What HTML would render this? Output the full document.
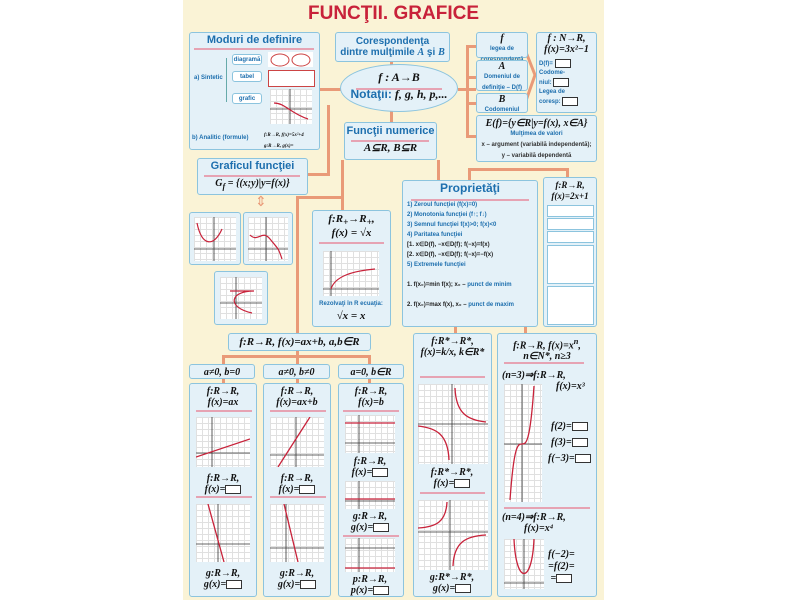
<!DOCTYPE html>
<html><head><meta charset="utf-8"><style>
body{margin:0;width:800px;height:600px;background:#fff;position:relative;overflow:hidden;font-family:"Liberation Serif",serif}
#p{position:absolute;left:183px;top:0;width:421px;height:600px;background:#faf3d6}
.a{position:absolute}
.b{position:absolute;background:#e4f1f8;border:1.5px solid #8cc4de;border-radius:3px;box-sizing:border-box;text-align:center;color:#111;font-weight:bold;font-style:italic;font-size:10px;line-height:11px}
.h{font-family:"Liberation Sans",sans-serif;font-style:normal;color:#1d6fae;font-weight:bold}
.l{position:absolute;background:#e99a78}
.g{position:absolute;background:#fff;background-image:linear-gradient(#e0e0e0 1px,transparent 1px),linear-gradient(90deg,#e0e0e0 1px,transparent 1px);background-size:6px 6px;overflow:hidden}
.g svg{position:absolute;left:0;top:0;width:100%;height:100%}
.pk{position:absolute;height:2px;background:#e6a3b3}
.s{font-family:"Liberation Sans",sans-serif;font-style:normal;color:#1d6fae;font-size:6px;font-weight:bold}
.bx{display:inline-block;width:14px;height:7px;border:1px solid #333;background:#fff;vertical-align:middle}
</style></head><body><div id="p"></div>
<div class="l" style="left:319px;top:88px;width:22px;height:3px"></div>
<div class="l" style="left:390px;top:60px;width:3px;height:62px"></div>
<div class="l" style="left:458px;top:88px;width:18px;height:3px"></div>
<div class="l" style="left:466px;top:45px;width:3px;height:92px"></div>
<div class="l" style="left:466px;top:45px;width:10px;height:3px"></div>
<div class="l" style="left:466px;top:76px;width:10px;height:3px"></div>
<div class="l" style="left:466px;top:102px;width:10px;height:3px"></div>
<div class="l" style="left:466px;top:135px;width:10px;height:3px"></div>
<div class="l" style="left:327px;top:105px;width:3px;height:70px"></div>
<div class="l" style="left:308px;top:173px;width:22px;height:3px"></div>
<div class="l" style="left:296px;top:196px;width:48px;height:3px"></div>
<div class="l" style="left:341px;top:160px;width:3px;height:50px"></div>
<div class="l" style="left:296px;top:196px;width:3px;height:137px"></div>
<div class="l" style="left:437px;top:160px;width:3px;height:22px"></div>
<div class="l" style="left:468px;top:168px;width:3px;height:14px"></div>
<div class="l" style="left:468px;top:168px;width:100px;height:3px"></div>
<div class="l" style="left:566px;top:168px;width:3px;height:10px"></div>
<div class="l" style="left:454px;top:327px;width:3px;height:8px"></div>
<div class="l" style="left:524px;top:327px;width:3px;height:8px"></div>
<div class="l" style="left:222px;top:355px;width:148px;height:3px"></div>
<div class="l" style="left:222px;top:355px;width:3px;height:10px"></div>
<div class="l" style="left:296px;top:350px;width:3px;height:15px"></div>
<div class="l" style="left:368px;top:355px;width:3px;height:10px"></div>
<div class="l" style="left:222px;top:378px;width:3px;height:6px"></div>
<div class="l" style="left:296px;top:378px;width:3px;height:6px"></div>
<div class="l" style="left:368px;top:378px;width:3px;height:6px"></div>
<svg class="a" style="left:520px;top:40px" width="20" height="75"><path d="M2 2 L15 35 L2 72" stroke="#e99a78" stroke-width="3" fill="none"/></svg>

<div class="a" style="left:183px;top:3px;width:421px;text-align:center;font:bold 19px 'Liberation Sans',sans-serif;color:#c8223a">FUNCŢII. GRAFICE</div>

<div class="b" style="left:189px;top:32px;width:131px;height:118px;text-align:left">
<div class="h" style="text-align:center;font-size:11px;margin-top:2px">Moduri de definire</div>
<div class="pk" style="left:4px;top:15px;width:120px"></div>
<div class="s a" style="left:4px;top:40px">a) Sintetic</div>
<div class="a" style="left:36px;top:25px;width:1px;height:44px;background:#6aa"></div>
<div class="b s" style="left:42px;top:21px;width:30px;height:11px;background:#fff">diagramă</div>
<div class="b s" style="left:42px;top:38px;width:30px;height:11px;background:#fff">tabel</div>
<div class="b s" style="left:42px;top:60px;width:30px;height:11px;background:#fff">grafic</div>
<div class="a" style="left:78px;top:19px;width:45px;height:15px;background:#fff"><svg width="45" height="15"><ellipse cx="12" cy="8" rx="9" ry="6" fill="none" stroke="#c44"/><ellipse cx="33" cy="8" rx="9" ry="6" fill="none" stroke="#c44"/></svg></div>
<div class="a" style="left:78px;top:37px;width:45px;height:15px;background:#fff;border:1px solid #c44"></div>
<div class="g" style="left:80px;top:56px;width:42px;height:35px"><svg viewBox="0 0 42 35"><path d="M0 20H42M20 0V35" stroke="#333" stroke-width=".8"/><path d="M4 14C15 14 20 24 38 30" stroke="#c8223a" fill="none" stroke-width="1.2"/></svg></div>
<div class="s a" style="left:2px;top:100px">b) Analitic (formule)</div>
<div class="a" style="left:74px;top:97px;font-size:5px">f:R→R, f(x)=5x²+4<br>g:R→R, g(x)=</div>
</div>

<div class="b h" style="left:335px;top:32px;width:115px;height:30px;font-size:10px;padding-top:3px">Corespondenţa<br>dintre mulţimile <i style="font-family:'Liberation Serif'">A</i> şi <i style="font-family:'Liberation Serif'">B</i></div>
<div class="b" style="left:340px;top:64px;width:118px;height:48px;border-radius:50%;font-size:12px;padding-top:7px">f : A→B<div class="pk" style="left:15px;top:23px;width:86px"></div><div style="margin-top:6px"><span class="h">Notaţii:</span> f, g, h, p,...</div></div>

<div class="b" style="left:476px;top:32px;width:52px;height:26px">f<div class="s">legea de corespondenţă</div></div>
<div class="b" style="left:476px;top:60px;width:52px;height:31px">A<div class="s">Domeniul de definiţie – D(f)</div></div>
<div class="b" style="left:476px;top:93px;width:52px;height:20px">B<div class="s">Codomeniul</div></div>
<div class="b" style="left:536px;top:32px;width:61px;height:81px">f : N→R,<br>f(x)=3x²−1<div class="s" style="text-align:left;padding:4px 2px;line-height:9px">D(f)= <span class="bx"></span><br>Codome-<br>niul: <span class="bx"></span><br>Legea de<br>coresp: <span class="bx"></span></div></div>
<div class="b" style="left:476px;top:115px;width:121px;height:47px;padding-top:2px">E(f)={y∈R|y=f(x), x∈A}<div class="s">Mulţimea de valori</div><div class="s" style="color:#333">x – argument (variabilă independentă);<br>y – variabilă dependentă</div></div>

<div class="b" style="left:344px;top:122px;width:93px;height:38px"><div class="h" style="font-size:11px;margin-top:3px">Funcţii numerice</div><div class="pk" style="left:6px;top:17px;width:78px"></div><div style="margin-top:6px;font-size:11px">A⊆R, B⊆R</div></div>

<div class="b" style="left:197px;top:158px;width:111px;height:37px"><div class="h" style="font-size:11px;margin-top:2px">Graficul funcţiei</div><div class="pk" style="left:6px;top:16px;width:96px"></div><div style="margin-top:6px">G<sub>f</sub> = {(x;y)|y=f(x)}</div></div>
<div class="a" style="left:255px;top:194px;color:#e99a78;font-size:14px">⇕</div>
<div class="b" style="left:189px;top:212px;width:52px;height:53px"><div class="g" style="left:4px;top:4px;width:42px;height:44px"><svg viewBox="0 0 42 44"><path d="M0 32H42M20 0V44" stroke="#333" stroke-width=".8"/><path d="M3 6C8 30 20 30 28 12" stroke="#c8223a" fill="none" stroke-width="1.2"/></svg></div></div>
<div class="b" style="left:243px;top:212px;width:50px;height:53px"><div class="g" style="left:4px;top:4px;width:40px;height:44px"><svg viewBox="0 0 40 44"><path d="M0 32H40M18 0V44" stroke="#333" stroke-width=".8"/><path d="M2 18C10 26 14 12 22 22S30 30 34 42" stroke="#c8223a" fill="none" stroke-width="1.2"/></svg></div></div>
<div class="b" style="left:214px;top:271px;width:54px;height:54px"><div class="g" style="left:5px;top:5px;width:42px;height:42px"><svg viewBox="0 0 42 42"><path d="M0 26H42M16 0V42" stroke="#333" stroke-width=".8"/><path d="M10 14H34M34 14C10 14 6 30 32 36" stroke="#c8223a" fill="none" stroke-width="1.2"/></svg></div></div>

<div class="b" style="left:312px;top:210px;width:79px;height:117px;font-size:11px;padding-top:3px">f:R<sub>+</sub>→R<sub>+</sub>,<br>f(x) = √x<div class="pk" style="left:6px;top:31px;width:65px"></div><div class="g" style="left:10px;top:40px;width:56px;height:45px"><svg viewBox="0 0 56 45"><path d="M0 38H56M8 0V45" stroke="#333" stroke-width=".8"/><path d="M8 38C12 25 30 20 52 18" stroke="#c8223a" fill="none" stroke-width="1.2"/></svg></div><div class="s a" style="left:2px;top:88px;width:72px">Rezolvaţi în R ecuaţia:</div><div class="a" style="left:0;top:100px;width:76px">√x = x</div></div>

<div class="b" style="left:402px;top:180px;width:136px;height:147px;text-align:left"><div class="h" style="text-align:center;font-size:12px;margin-top:2px">Proprietăţi</div><div class="pk" style="left:8px;top:18px;width:118px"></div>
<div class="s" style="font-size:6px;line-height:10px;padding:6px 4px">1) Zeroul funcţiei (f(x)=0)<br>2) Monotonia funcţiei (f↑; f↓)<br>3) Semnul funcţiei f(x)&gt;0; f(x)&lt;0<br>4) Paritatea funcţiei<br><span style="color:#222">[1. x∈D(f), −x∈D(f); f(−x)=f(x)<br>[2. x∈D(f), −x∈D(f); f(−x)=−f(x)</span><br>5) Extremele funcţiei<br><span style="color:#222"><br>1. f(x₀)=min f(x); x₀ – </span>punct de minim<br><br><span style="color:#222">2. f(x₀)=max f(x), x₀ – </span>punct de maxim</div></div>

<div class="b" style="left:543px;top:177px;width:54px;height:150px;font-size:9px;padding-top:2px">f:R→R,<br>f(x)=2x+1
<div class="a" style="left:3px;top:27px;width:45px;height:10px;background:#fff;border:1px solid #8cc4de"></div>
<div class="a" style="left:3px;top:40px;width:45px;height:10px;background:#fff;border:1px solid #8cc4de"></div>
<div class="a" style="left:3px;top:53px;width:45px;height:10px;background:#fff;border:1px solid #8cc4de"></div>
<div class="a" style="left:3px;top:67px;width:45px;height:37px;background:#fff;border:1px solid #8cc4de"></div>
<div class="a" style="left:3px;top:108px;width:45px;height:37px;background:#fff;border:1px solid #8cc4de"></div></div>

<div class="b" style="left:228px;top:333px;width:143px;height:18px;font-size:11px;padding-top:3px">f:R→R, f(x)=ax+b, a,b∈R</div>
<div class="b" style="left:189px;top:364px;width:66px;height:15px;padding-top:2px">a≠0, b=0</div>
<div class="b" style="left:263px;top:364px;width:67px;height:15px;padding-top:2px">a≠0, b≠0</div>
<div class="b" style="left:338px;top:364px;width:66px;height:15px;padding-top:2px">a=0, b∈R</div>

<div class="b" style="left:189px;top:383px;width:68px;height:214px;font-size:10px;padding-top:2px">f:R→R,<br>f(x)=ax<div class="pk" style="left:6px;top:26px;width:56px"></div><div class="g" style="left:6px;top:33px;width:54px;height:50px"><svg viewBox="0 0 54 50"><path d="M0 36H54M16 0V50" stroke="#333" stroke-width=".8"/><path d="M0 40L54 22" stroke="#c8223a" stroke-width="1.3"/></svg></div><div class="a" style="left:0;top:89px;width:66px">f:R→R,<br>f(x)=<span class="bx"></span></div><div class="pk" style="left:6px;top:112px;width:56px"></div><div class="g" style="left:6px;top:120px;width:54px;height:58px"><svg viewBox="0 0 54 58"><path d="M0 40H54M22 0V58" stroke="#333" stroke-width=".8"/><path d="M12 0L28 58" stroke="#c8223a" stroke-width="1.3"/></svg></div><div class="a" style="left:0;top:184px;width:66px">g:R→R,<br>g(x)=<span class="bx"></span></div></div>
<div class="b" style="left:263px;top:383px;width:68px;height:214px;font-size:10px;padding-top:2px">f:R→R,<br>f(x)=ax+b<div class="pk" style="left:6px;top:26px;width:56px"></div><div class="g" style="left:6px;top:33px;width:54px;height:50px"><svg viewBox="0 0 54 50"><path d="M0 38H54M26 0V50" stroke="#333" stroke-width=".8"/><path d="M8 50L40 0" stroke="#c8223a" stroke-width="1.3"/></svg></div><div class="a" style="left:0;top:89px;width:66px">f:R→R,<br>f(x)=<span class="bx"></span></div><div class="pk" style="left:6px;top:112px;width:56px"></div><div class="g" style="left:6px;top:120px;width:54px;height:58px"><svg viewBox="0 0 54 58"><path d="M0 44H54M16 0V58" stroke="#333" stroke-width=".8"/><path d="M14 0L28 58" stroke="#c8223a" stroke-width="1.3"/></svg></div><div class="a" style="left:0;top:184px;width:66px">g:R→R,<br>g(x)=<span class="bx"></span></div></div>
<div class="b" style="left:338px;top:383px;width:66px;height:214px;font-size:10px;padding-top:2px">f:R→R,<br>f(x)=b<div class="pk" style="left:4px;top:26px;width:56px"></div><div class="g" style="left:6px;top:31px;width:50px;height:38px"><svg viewBox="0 0 50 38"><path d="M0 28H50M14 0V38" stroke="#333" stroke-width=".8"/><path d="M0 8H50" stroke="#c8223a" stroke-width="1.3"/></svg></div><div class="a" style="left:0;top:72px;width:62px">f:R→R,<br>f(x)=<span class="bx"></span></div><div class="g" style="left:6px;top:97px;width:50px;height:28px"><svg viewBox="0 0 50 28"><path d="M0 20H50M14 0V28" stroke="#333" stroke-width=".8"/><path d="M0 18H50" stroke="#c8223a" stroke-width="1.3"/></svg></div><div class="a" style="left:0;top:127px;width:62px">g:R→R,<br>g(x)=<span class="bx"></span></div><div class="pk" style="left:4px;top:151px;width:56px"></div><div class="g" style="left:6px;top:154px;width:50px;height:34px"><svg viewBox="0 0 50 34"><path d="M0 10H50M14 0V34" stroke="#333" stroke-width=".8"/><path d="M0 30H50" stroke="#c8223a" stroke-width="1.3"/></svg></div><div class="a" style="left:0;top:190px;width:62px">p:R→R,<br>p(x)=<span class="bx"></span></div></div>

<div class="b" style="left:413px;top:333px;width:79px;height:264px;font-size:10px;padding-top:2px">f:R*→R*,<br>f(x)=k/x, k∈R*<div class="pk" style="left:6px;top:42px;width:65px"></div><div class="g" style="left:4px;top:50px;width:70px;height:80px"><svg viewBox="0 0 70 80"><path d="M0 40H70M34 0V80" stroke="#333" stroke-width=".8"/><path d="M37 4C38 30 50 36 68 38M0 42C18 44 30 50 31 76" stroke="#c8223a" fill="none" stroke-width="1.3"/></svg></div><div class="a" style="left:0;top:133px;width:76px">f:R*→R*,<br>f(x)=<span class="bx"></span></div><div class="pk" style="left:6px;top:158px;width:65px"></div><div class="g" style="left:4px;top:166px;width:70px;height:70px"><svg viewBox="0 0 70 70"><path d="M0 32H70M32 0V70" stroke="#333" stroke-width=".8"/><path d="M0 28C18 27 28 22 29 2M35 66C36 42 48 36 68 35" stroke="#c8223a" fill="none" stroke-width="1.3"/></svg></div><div class="a" style="left:0;top:238px;width:76px">g:R*→R*,<br>g(x)=<span class="bx"></span></div></div>
<div class="b" style="left:497px;top:333px;width:100px;height:264px;font-size:10px;padding-top:2px">f:R→R, f(x)=x<sup>n</sup>,<br>n∈N*, n≥3<div class="pk" style="left:6px;top:28px;width:80px"></div><div class="a" style="left:4px;top:36px;width:90px;text-align:left">(n=3)⇒f:R→R,</div><div class="a" style="left:58px;top:47px">f(x)=x³</div><div class="g" style="left:6px;top:50px;width:38px;height:118px"><svg viewBox="0 0 38 118"><path d="M0 60H38M18 0V118" stroke="#333" stroke-width=".8"/><path d="M6 116C10 60 14 60 18 60S26 60 30 2" stroke="#c8223a" fill="none" stroke-width="1.3"/></svg></div><div class="a" style="left:50px;top:85px;line-height:16px">f(2)=<span class="bx"></span><br>f(3)=<span class="bx"></span><br>f(−3)=<span class="bx"></span></div><div class="pk" style="left:6px;top:173px;width:86px"></div><div class="a" style="left:4px;top:178px;width:90px;text-align:left">(n=4)⇒f:R→R,</div><div class="a" style="left:26px;top:189px">f(x)=x⁴</div><div class="g" style="left:6px;top:205px;width:40px;height:50px"><svg viewBox="0 0 40 50"><path d="M0 44H40M20 0V50" stroke="#333" stroke-width=".8"/><path d="M10 0C12 46 28 46 30 0" stroke="#c8223a" fill="none" stroke-width="1.3"/></svg></div><div class="a" style="left:50px;top:215px;line-height:12px">f(−2)=<br>=f(2)=<br>=<span class="bx"></span></div></div>
</body></html>
